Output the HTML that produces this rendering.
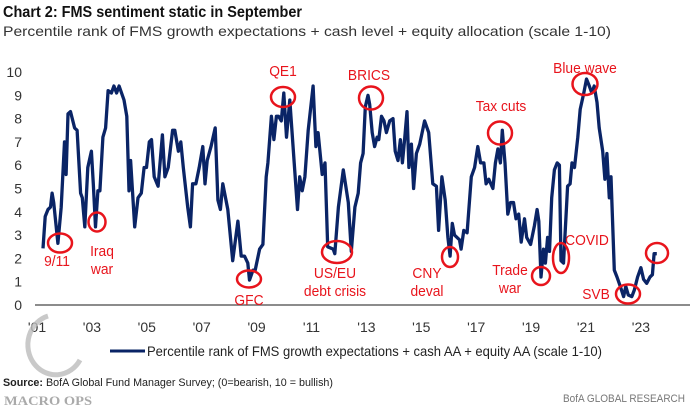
<!DOCTYPE html>
<html><head><meta charset="utf-8">
<style>
html,body{margin:0;padding:0;background:#fff;}
svg{display:block;font-family:"Liberation Sans",sans-serif;}
</style></head>
<body>
<svg id="chart" width="695" height="410" viewBox="0 0 695 410">
  <text x="3" y="17" font-size="15.5" font-weight="bold" fill="#111" textLength="299" lengthAdjust="spacingAndGlyphs">Chart 2: FMS sentiment static in September</text>
  <text x="3" y="36" font-size="14" fill="#333" textLength="608" lengthAdjust="spacingAndGlyphs">Percentile rank of FMS growth expectations + cash level + equity allocation (scale 1-10)</text>
  <g id="yaxis"></g>
  <g id="xaxis"></g>
  <line x1="35" y1="305" x2="690" y2="305" stroke="#666" stroke-width="1.5"/>
  <path id="series" fill="none" stroke="#0a2466" stroke-width="3.3" stroke-linejoin="round"/>
  <g id="annots"></g>
  <line x1="110" y1="351" x2="145" y2="351" stroke="#0a2466" stroke-width="3"/>
  <text x="147" y="356" font-size="14" fill="#222" textLength="455" lengthAdjust="spacingAndGlyphs">Percentile rank of FMS growth expectations + cash AA + equity AA (scale 1-10)</text>
  <path d="M48,316 A28,30 0 1 0 80,360" fill="none" stroke="#bbb" stroke-width="5" opacity="0.8"/>
  <text x="3" y="386" font-size="11" fill="#222" textLength="330" lengthAdjust="spacingAndGlyphs"><tspan font-weight="bold">Source:</tspan> BofA Global Fund Manager Survey; (0=bearish, 10 = bullish)</text>
  <text x="4" y="405" font-family="Liberation Serif,serif" font-size="13" font-weight="bold" fill="#aaa" textLength="88" lengthAdjust="spacingAndGlyphs">MACRO OPS</text>
  <text x="685" y="402" text-anchor="end" font-size="11" fill="#777" textLength="122" lengthAdjust="spacingAndGlyphs">BofA GLOBAL RESEARCH</text>
</svg>
<script>
const yTicks=[0,1,2,3,4,5,6,7,8,9,10];
const xTickYears=[2001,2003,2005,2007,2009,2011,2013,2015,2017,2019,2021,2023];
const xTickLabels=["'01","'03","'05","'07","'09","'11","'13","'15","'17","'19","'21","'23"];
const dates=[2001.22,2001.30,2001.40,2001.49,2001.55,2001.61,2001.76,2001.88,2002.00,2002.06,2002.13,2002.22,2002.37,2002.46,2002.59,2002.65,2002.74,2002.85,2002.98,2003.05,2003.13,2003.22,2003.29,2003.40,2003.50,2003.59,2003.71,2003.80,2003.90,2003.99,2004.17,2004.27,2004.35,2004.41,2004.56,2004.68,2004.80,2004.90,2004.99,2005.09,2005.17,2005.27,2005.41,2005.57,2005.66,2005.78,2005.94,2006.02,2006.15,2006.24,2006.33,2006.49,2006.59,2006.67,2006.79,2006.91,2007.04,2007.12,2007.20,2007.34,2007.49,2007.59,2007.68,2007.77,2007.95,2008.13,2008.32,2008.44,2008.56,2008.68,2008.74,2008.87,2008.95,2009.11,2009.23,2009.35,2009.41,2009.54,2009.63,2009.72,2009.80,2009.90,2009.99,2010.09,2010.21,2010.37,2010.49,2010.57,2010.66,2010.76,2010.88,2011.06,2011.16,2011.24,2011.39,2011.49,2011.59,2011.79,2011.85,2011.98,2012.16,2012.34,2012.45,2012.58,2012.70,2012.79,2012.88,2012.96,2013.06,2013.12,2013.21,2013.30,2013.39,2013.45,2013.55,2013.64,2013.73,2013.85,2013.97,2014.05,2014.15,2014.24,2014.31,2014.39,2014.48,2014.55,2014.64,2014.72,2014.82,2014.94,2015.12,2015.27,2015.42,2015.55,2015.63,2015.75,2015.87,2015.97,2016.05,2016.13,2016.21,2016.39,2016.45,2016.55,2016.67,2016.82,2016.94,2017.06,2017.16,2017.28,2017.36,2017.46,2017.61,2017.70,2017.79,2017.88,2017.95,2018.05,2018.15,2018.25,2018.36,2018.45,2018.55,2018.64,2018.76,2018.84,2018.98,2019.12,2019.22,2019.28,2019.36,2019.45,2019.52,2019.60,2019.67,2019.75,2019.85,2019.95,2020.03,2020.09,2020.18,2020.27,2020.33,2020.42,2020.49,2020.58,2020.70,2020.79,2020.92,2021.02,2021.12,2021.21,2021.30,2021.40,2021.48,2021.61,2021.69,2021.76,2021.85,2021.91,2022.03,2022.13,2022.25,2022.37,2022.45,2022.54,2022.67,2022.76,2022.88,2023.00,2023.10,2023.21,2023.33,2023.42,2023.48,2023.58];
const values=[2.43,3.8,4.1,4.2,4.8,4.4,2.65,4.2,7.0,5.6,8.2,8.3,7.6,7.5,4.8,4.6,3.35,5.9,6.6,5.2,3.35,4.9,4.9,7.2,7.6,9.2,9.1,9.4,9.1,9.4,8.8,8.1,4.9,6.2,3.35,4.6,4.8,5.9,5.9,7.0,7.1,5.5,5.1,7.3,5.5,5.9,7.5,7.5,6.6,7.0,5.9,4.2,3.35,5.2,5.2,5.9,6.8,5.2,6.2,6.8,7.6,4.5,4.1,5.2,4.1,1.9,3.6,2.1,2.1,1.8,1.07,1.5,1.5,2.4,2.6,5.5,6.1,8.1,7.1,8.1,8.1,7.9,9.1,7.2,8.8,6.1,4.1,5.5,4.9,5.5,7.5,9.4,6.8,7.4,5.6,6.1,2.5,2.4,2.2,4.2,5.8,4.4,2.3,4.2,4.8,6.1,6.5,8.5,9.0,8.6,7.4,6.8,7.2,7.1,8.1,7.9,7.4,7.9,8.0,6.6,6.2,7.1,6.1,7.1,8.3,5.9,6.9,5.0,6.5,6.9,7.9,7.4,5.2,5.1,3.2,5.5,4.5,2.9,2.1,3.5,3.0,2.8,2.4,3.2,3.1,5.5,5.9,6.8,6.1,6.1,5.2,5.4,5.0,6.1,6.7,6.1,7.5,6.1,3.9,4.4,4.4,3.7,3.9,2.7,3.7,2.9,2.6,3.4,4.1,3.6,1.2,2.4,1.8,2.9,2.3,4.6,5.8,6.1,6.0,1.9,1.8,3.8,5.1,5.2,6.1,5.9,7.2,8.4,9.1,9.7,9.4,9.1,9.4,8.7,7.6,6.6,5.4,6.5,4.6,5.5,1.5,1.2,0.8,0.36,0.8,0.43,0.36,0.64,1.2,1.6,1.1,0.93,1.2,1.3,2.2,2.2];
const annLabels=["9/11","Iraq|war","GFC","QE1","US/EU|debt crisis","BRICS","CNY|deval","Tax cuts","Trade|war","COVID","Blue wave","SVB",""];

const X0=37,XPY=27.45,Y0=305,YPU=23.3;
function xs(y){return X0+(y-2001)*XPY;}
function ys(v){return Y0-v*YPU;}
const NS="http://www.w3.org/2000/svg";
const yg=document.getElementById('yaxis');
yTicks.forEach(t=>{const e=document.createElementNS(NS,'text');e.setAttribute('x',22);e.setAttribute('y',ys(t)+5);e.setAttribute('text-anchor','end');e.setAttribute('font-size','14');e.setAttribute('fill','#333');e.textContent=t;


yg.appendChild(e);});
const xg=document.getElementById('xaxis');
xTickYears.forEach((t,i)=>{const e=document.createElementNS(NS,'text');e.setAttribute('x',xs(t));e.setAttribute('y',332);e.setAttribute('text-anchor','middle');e.setAttribute('font-size','14');e.setAttribute('fill','#333');e.textContent=xTickLabels[i];


xg.appendChild(e);});
document.getElementById('series').setAttribute('d',dates.map((d,i)=>(i?'L':'M')+xs(d).toFixed(1)+','+ys(values[i]).toFixed(1)).join(''));
const annGeom=[[60,243,12,9.5,57,266],[97,222,8.5,9.5,102,256],[249,279,12,8.5,249,305],[283,97,12,10,283,76],[337,252,15,11,335,278],[371,98,12,11.5,369,80],[450,257,8,10,427,278],[500,133,12,11.5,501,111],[541,276,9,9,510,275],[561,258,8,15,587,245],[585,84,12.5,11,585,73],[628,294,12,9.5,596,299],[657,253,11,10,0,0]];
const ag=document.getElementById('annots');
annGeom.forEach((g,i)=>{const el=document.createElementNS(NS,'ellipse');el.setAttribute('cx',g[0]);el.setAttribute('cy',g[1]);el.setAttribute('rx',g[2]);el.setAttribute('ry',g[3]);el.setAttribute('fill','none');el.setAttribute('stroke','#e8141c');el.setAttribute('stroke-width','2.5');


ag.appendChild(el);
if(annLabels[i]){annLabels[i].split('|').forEach((ln,j)=>{const t=document.createElementNS(NS,'text');t.setAttribute('x',g[4]);t.setAttribute('y',g[5]+j*18);t.setAttribute('text-anchor','middle');t.setAttribute('font-size','15');t.setAttribute('fill','#e8141c');t.setAttribute('transform','translate('+g[4]+',0) scale(0.92,1) translate('+(-g[4])+',0)');t.textContent=ln;


ag.appendChild(t);});}});
</script>
</body></html>
